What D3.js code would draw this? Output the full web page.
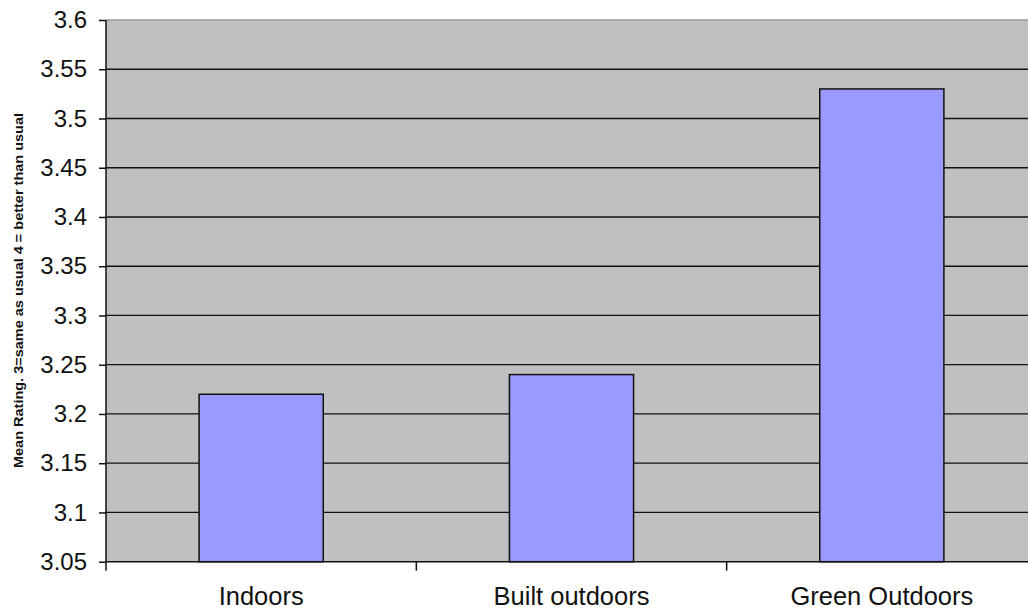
<!DOCTYPE html>
<html><head><meta charset="utf-8">
<script src="https://cdn.jsdelivr.net/npm/d3@7"></script>
<style>body{margin:0;background:#fff;}svg{display:block;}</style>
</head><body>
<svg id="c" width="1028" height="609"></svg>
<script>
const categories = ["Indoors", "Built outdoors", "Green Outdoors"];
const values = [3.22, 3.24, 3.53];
const yTicks = [3.05, 3.1, 3.15, 3.2, 3.25, 3.3, 3.35, 3.4, 3.45, 3.5, 3.55, 3.6];
const yLabel = "Mean Rating. 3=same as usual 4 = better than usual";

const svg = d3.select("#c");
const pL = 106, pR = 1037, pT = 20, pB = 561.7;
const x = d3.scaleBand().domain(categories).range([pL, pR]);
const y = d3.scaleLinear().domain([3.05, 3.6]).range([pB, pT]);
const font = "Liberation Sans, Arial, sans-serif";

svg.append("rect").attr("x", pL).attr("y", pT).attr("width", pR - pL).attr("height", pB - pT).attr("fill", "#c0c0c0");
svg.append("line").attr("x1", pL).attr("x2", pR).attr("y1", pT).attr("y2", pT).attr("stroke", "#9a9a9a").attr("stroke-width", 1.5);

// gridlines
svg.append("g").selectAll("line").data(yTicks.filter(t => t > 3.05 && t < 3.6)).join("line")
  .attr("x1", pL).attr("x2", pR).attr("y1", d => y(d)).attr("y2", d => y(d))
  .attr("stroke", "#111").attr("stroke-width", 1.3);

// bars
const bw = x.bandwidth() * 0.4;
svg.append("g").selectAll("rect").data(categories).join("rect")
  .attr("x", (d) => x(d) + x.bandwidth() / 2 - bw / 2)
  .attr("y", (d, i) => y(values[i]))
  .attr("width", bw)
  .attr("height", (d, i) => pB - y(values[i]))
  .attr("fill", "#9999ff").attr("stroke", "#111").attr("stroke-width", 1.5);

// y axis
const ya = svg.append("g").attr("transform", `translate(${pL},0)`)
  .call(d3.axisLeft(y).tickValues(yTicks).tickSize(7).tickPadding(12).tickFormat(d => String(+d.toFixed(2))));
ya.select(".domain").attr("stroke", "#111").attr("stroke-width", 1.5).attr("d", `M0,${pT}V${pB + 9}`);
ya.selectAll(".tick line").attr("stroke", "#111").attr("stroke-width", 1.5);
ya.selectAll(".tick text").attr("font-family", font).attr("font-size", 24).attr("fill", "#111");

// x axis
const xa = svg.append("g").attr("transform", `translate(0,${pB})`)
  .call(d3.axisBottom(x).tickSize(0).tickPadding(25));
xa.select(".domain").attr("stroke", "#111").attr("stroke-width", 1.5).attr("d", `M${pL},0H${pR}`);
xa.selectAll(".tick text").attr("font-family", font).attr("font-size", 25.5).attr("fill", "#111");
svg.append("g").selectAll("line").data(categories.slice(1)).join("line")
  .attr("x1", d => x(d)).attr("x2", d => x(d)).attr("y1", pB).attr("y2", pB + 9)
  .attr("stroke", "#111").attr("stroke-width", 1.5);

svg.append("text").attr("transform", "translate(22.5,290.5) rotate(-90)")
  .attr("text-anchor", "middle").attr("font-family", font)
  .attr("font-weight", "bold").attr("font-size", 12.5)
  .attr("textLength", 355).attr("lengthAdjust", "spacingAndGlyphs")
  .attr("fill", "#111").text(yLabel);
</script>
</body></html>
